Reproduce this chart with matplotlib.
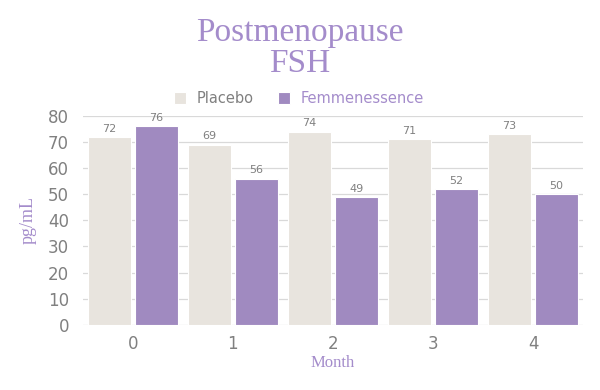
import matplotlib
matplotlib.use("Agg")
import matplotlib.pyplot as plt
import numpy as np

months = ["0", "1", "2", "3", "4"]
placebo = [72, 69, 74, 71, 73]
femme = [76, 56, 49, 52, 50]
yticks = [0, 10, 20, 30, 40, 50, 60, 70, 80]

c_plac = "#E8E4DE"
c_fem = "#A08AC0"
purple_text = "#A48CCB"
gray = "#808080"

fig = plt.figure(figsize=(6, 3.9), dpi=100)
ax = fig.add_axes([0.138, 0.167, 0.834, 0.536])

x = np.arange(len(months))
w = 0.43
off = 0.235
b1 = ax.bar(x - off, placebo, w, color=c_plac, edgecolor="white", linewidth=0.8, label="Placebo", zorder=2)
b2 = ax.bar(x + off, femme, w, color=c_fem, edgecolor="white", linewidth=0.8, label="Femmenessence", zorder=2)

for bars, vals in ((b1, placebo), (b2, femme)):
    for r, v in zip(bars, vals):
        ax.text(r.get_x() + r.get_width() / 2, v + 1.2, str(v), ha="center", va="bottom",
                fontsize=8, color=gray)

ax.set_xlim(-0.5, 4.5)
ax.set_ylim(0, 80)
ax.set_yticks(yticks)
ax.set_xticks(x)
ax.set_xticklabels(months)
ax.tick_params(axis="both", length=0, labelsize=12, labelcolor=gray)
ax.tick_params(axis="x", pad=7)
ax.tick_params(axis="y", pad=10)
ax.grid(axis="y", color="#D9D9D9", linewidth=0.9, zorder=0)
for s in ax.spines.values():
    s.set_visible(False)

ax.set_xlabel("Month", family="Liberation Serif", fontsize=12, color=purple_text, labelpad=2)
ax.set_ylabel("pg/mL", family="Liberation Serif", fontsize=13, color=purple_text, labelpad=8)

fig.text(0.5, 0.876, "Postmenopause\nFSH", ha="center", va="center", family="Liberation Serif",
         fontsize=24, color=purple_text, linespacing=1.0)

leg = fig.legend(handles=[b1, b2], loc="center", bbox_to_anchor=(0.498, 0.748), ncol=2, frameon=False,
                 fontsize=10.5, handlelength=0.85, handleheight=0.85, columnspacing=1.7, handletextpad=0.7)
leg.get_texts()[0].set_color(gray)
leg.get_texts()[1].set_color(purple_text)

fig.savefig("out.png", dpi=100)
